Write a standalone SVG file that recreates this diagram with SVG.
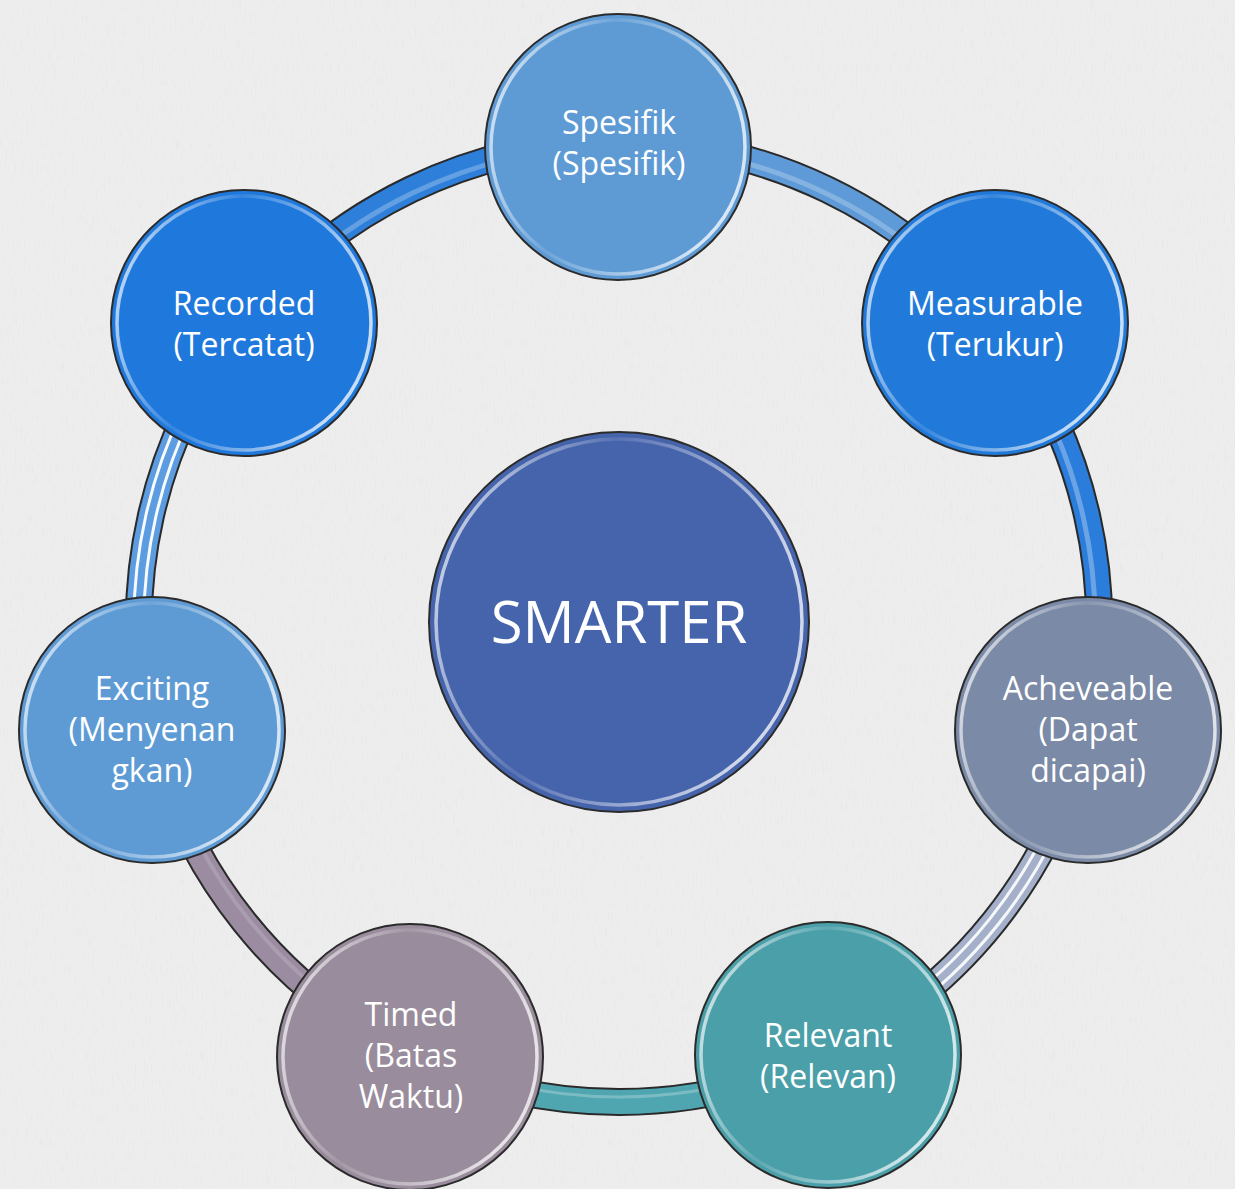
<svg xmlns="http://www.w3.org/2000/svg" width="1235" height="1189" viewBox="0 0 1235 1189">
  <defs>
    <filter id="tex" x="0" y="0" width="100%" height="100%">
      <feTurbulence type="fractalNoise" baseFrequency="0.9 0.08" numOctaves="2" seed="3"/>
      <feColorMatrix type="matrix" values="0 0 0 0 0.55  0 0 0 0 0.55  0 0 0 0 0.55  0 0 0 -1.2 0.55"/>
    </filter>
    <linearGradient id="bevel" x1="0" y1="0" x2="1" y2="0.3">
      <stop offset="0" stop-color="#ffffff" stop-opacity="0.85"/>
      <stop offset="0.45" stop-color="#ffffff" stop-opacity="0.1"/>
      <stop offset="1" stop-color="#ffffff" stop-opacity="0.75"/>
    </linearGradient>
    <style>
      .node-fill { stroke: #2b2b2b; stroke-width: 2; }
      .bev { fill: none; stroke: url(#bevel); stroke-width: 3.5; }
      .lbl { font-family: "Open Sans", "Noto Sans", "DejaVu Sans", sans-serif; font-size: 32px; fill: #ffffff; text-anchor: middle; }
      .big { font-family: "Open Sans", "Noto Sans", "DejaVu Sans", sans-serif; font-size: 58px; fill: #ffffff; text-anchor: middle; }
      .band-out { fill: none; stroke: #2a2a2a; stroke-width: 28; }
      .band { fill: none; stroke-width: 24; }
      .stripe { fill: none; stroke: #ffffff; }
    </style>
  </defs>

  <rect x="0" y="0" width="1235" height="1189" fill="#ededed"/>
  <rect x="0" y="0" width="1235" height="1189" filter="url(#tex)" opacity="0.3"/>

  <g id="connectors">
    <!-- Spesifik -> Measurable -->
    <path class="band-out" d="M619 142 A480 480 0 0 1 994.6 323.2"/>
    <path class="band" stroke="#5d9ad7" d="M619 142 A480 480 0 0 1 994.6 323.2"/>
    <path class="stripe" stroke-width="5" stroke-opacity="0.25" d="M619 146 A476 476 0 0 1 991.5 325.7"/>
    <!-- Measurable -> Acheveable -->
    <path class="band-out" d="M994.6 323.2 A480 480 0 0 1 1086.7 730"/>
    <path class="band" stroke="#2b7ddb" d="M994.6 323.2 A480 480 0 0 1 1086.7 730"/>
    <path class="stripe" stroke-width="5" stroke-opacity="0.3" d="M991.5 325.7 A476 476 0 0 1 1082.8 729.1"/>
    <!-- Acheveable -> Relevant -->
    <path class="band-out" d="M1086.7 730 A480 480 0 0 1 827.9 1054.1"/>
    <path class="band" stroke="#a4b0c9" d="M1086.7 730 A480 480 0 0 1 827.9 1054.1"/>
    <path class="stripe" stroke-width="3" stroke-opacity="0.9" d="M1081.8 728.9 A475 475 0 0 1 825.7 1049.6"/>
    <path class="stripe" stroke-width="3" stroke-opacity="0.9" d="M1091.6 731.1 A485 485 0 0 1 830.1 1058.6"/>
    <!-- Relevant -> Timed -->
    <path class="band-out" d="M827.9 1054.1 A480 480 0 0 1 410.8 1054.5"/>
    <path class="band" stroke="#4fa6b1" d="M827.9 1054.1 A480 480 0 0 1 410.8 1054.5"/>
    <path class="stripe" stroke-width="3" stroke-opacity="0.25" d="M825.7 1049.6 A475 475 0 0 1 413 1050"/>
    <!-- Timed -> Exciting -->
    <path class="band-out" d="M410.8 1054.5 A480 480 0 0 1 151.3 730"/>
    <path class="band" stroke="#9b8ca1" d="M410.8 1054.5 A480 480 0 0 1 151.3 730"/>
    <path class="stripe" stroke-width="4" stroke-opacity="0.15" d="M413 1050 A475 475 0 0 1 156.2 728.9"/>
    <!-- Exciting -> Recorded -->
    <path class="band-out" d="M151.3 730 A480 480 0 0 1 243.9 322.5"/>
    <path class="band" stroke="#5c9ce0" d="M151.3 730 A480 480 0 0 1 243.9 322.5"/>
    <path class="stripe" stroke-width="3" stroke-opacity="0.95" d="M156.2 728.9 A475 475 0 0 1 247.8 325.6"/>
    <path class="stripe" stroke-width="3" stroke-opacity="0.95" d="M146.4 731.1 A485 485 0 0 1 240 319.4"/>
    <!-- Recorded -> Spesifik -->
    <path class="band-out" d="M243.9 322.5 A480 480 0 0 1 619 142"/>
    <path class="band" stroke="#2e7fda" d="M243.9 322.5 A480 480 0 0 1 619 142"/>
    <path class="stripe" stroke-width="5" stroke-opacity="0.25" d="M247 325 A476 476 0 0 1 619 146"/>
  </g>

  <g id="node-smarter">
    <circle class="node-fill" cx="619" cy="622" r="190" fill="#4664ac"/>
    <circle class="bev" cx="619" cy="622" r="183"/>
    <text class="big" x="619" y="643">SMARTER</text>
  </g>

  <g id="node-spesifik">
    <circle class="node-fill" cx="618" cy="147" r="133" fill="#5e9bd5"/>
    <circle class="bev" cx="618" cy="147" r="127"/>
    <text class="lbl" x="619" y="134">Spesifik</text>
    <text class="lbl" x="619" y="175">(Spesifik)</text>
  </g>

  <g id="node-measurable">
    <circle class="node-fill" cx="995" cy="323" r="133" fill="#217ada"/>
    <circle class="bev" cx="995" cy="323" r="127"/>
    <text class="lbl" x="995" y="315">Measurable</text>
    <text class="lbl" x="995" y="356">(Terukur)</text>
  </g>

  <g id="node-acheveable">
    <circle class="node-fill" cx="1088" cy="730" r="133" fill="#7b8aa6"/>
    <circle class="bev" cx="1088" cy="730" r="127"/>
    <text class="lbl" x="1088" y="700">Acheveable</text>
    <text class="lbl" x="1088" y="741">(Dapat</text>
    <text class="lbl" x="1088" y="782">dicapai)</text>
  </g>

  <g id="node-relevant">
    <circle class="node-fill" cx="828" cy="1055" r="133" fill="#4a9fa9"/>
    <circle class="bev" cx="828" cy="1055" r="127"/>
    <text class="lbl" x="828" y="1047">Relevant</text>
    <text class="lbl" x="828" y="1088">(Relevan)</text>
  </g>

  <g id="node-timed">
    <circle class="node-fill" cx="410" cy="1057" r="133" fill="#998c9c"/>
    <circle class="bev" cx="410" cy="1057" r="127"/>
    <text class="lbl" x="411" y="1026">Timed</text>
    <text class="lbl" x="411" y="1067">(Batas</text>
    <text class="lbl" x="411" y="1108">Waktu)</text>
  </g>

  <g id="node-exciting">
    <circle class="node-fill" cx="152" cy="730" r="133" fill="#5e9bd5"/>
    <circle class="bev" cx="152" cy="730" r="127"/>
    <text class="lbl" x="152" y="700">Exciting</text>
    <text class="lbl" x="152" y="741">(Menyenan</text>
    <text class="lbl" x="152" y="782">gkan)</text>
  </g>

  <g id="node-recorded">
    <circle class="node-fill" cx="244" cy="323" r="133" fill="#1f78dc"/>
    <circle class="bev" cx="244" cy="323" r="127"/>
    <text class="lbl" x="244" y="315">Recorded</text>
    <text class="lbl" x="244" y="356">(Tercatat)</text>
  </g>
</svg>
